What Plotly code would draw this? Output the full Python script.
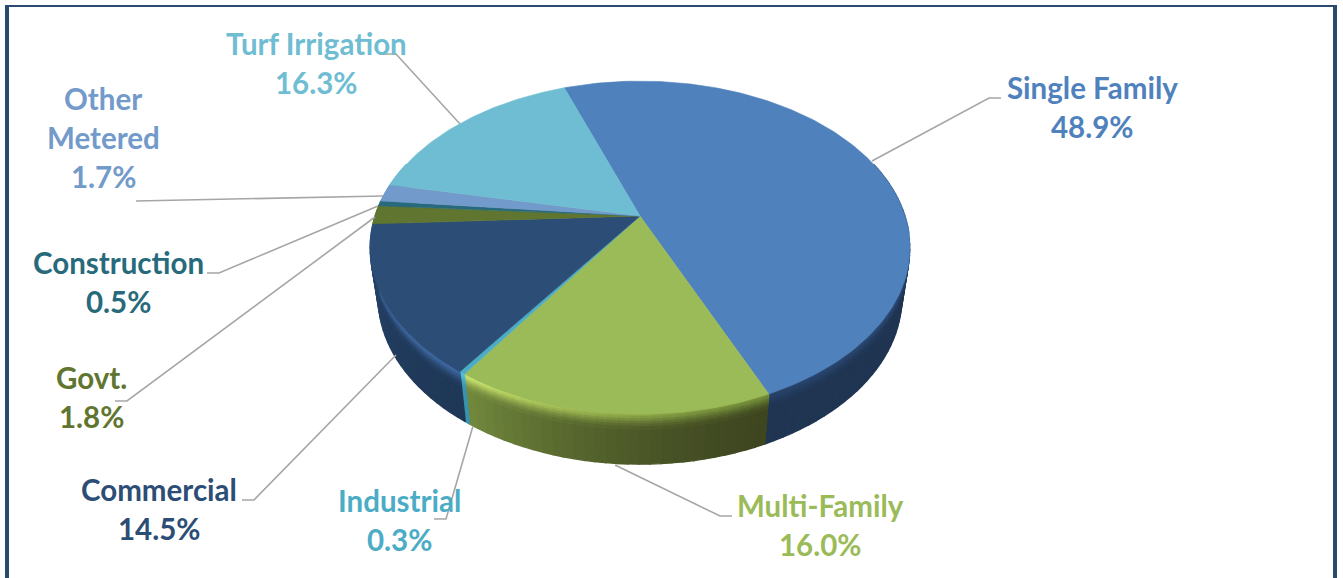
import numpy as np
import plotly.graph_objects as go

# ---- data ----
categories = ["Single Family", "Multi-Family", "Industrial", "Commercial",
              "Govt.", "Construction", "Other Metered", "Turf Irrigation"]
values = [48.9, 16.0, 0.3, 14.5, 1.8, 0.5, 1.7, 16.3]
tick_labels = [["Single Family", "48.9%"], ["Multi-Family", "16.0%"], ["Industrial", "0.3%"],
               ["Commercial", "14.5%"], ["Govt.", "1.8%"], ["Construction", "0.5%"],
               ["Other", "Metered", "1.7%"], ["Turf Irrigation", "16.3%"]]

# ---- styles ----
top_colors = ["#4f81bd", "#9bbb59", "#4bacc6", "#2c4d75", "#5f7530", "#276a7c", "#729aca", "#6fbdd2"]
label_colors = ["#4f81bd", "#9bbb59", "#4bacc6", "#2c4d75", "#5f7530", "#276a7c", "#729aca", "#6fbdd2"]
# wall colour at slice start angle, at slice end angle (clockwise)
wall_colors = [("#1f3552", "#1f3552"), ("#3e4620", "#72893d"), ("#3a93ad", "#3a93ad"),
               ("#1f3858", "#264469"), ("#4a5c26", "#4a5c26"), ("#1e5362", "#1e5362"),
               ("#3d6391", "#3d6391"), ("#4b8a9b", "#4b8a9b")]
rim_colors = [("#3d6494", "#27426a"), ("#75903a", "#cde76f"), ("#5cc3dd", "#5cc3dd"),
              ("#3f6aa3", "#3a5f95"), ("#5f7530", "#5f7530"), ("#276a7c", "#276a7c"),
              ("#729aca", "#729aca"), ("#6fbdd2", "#6fbdd2")]

# layout positions (pixels of the page)
label_pos = [(1092, 87), (820, 505), (399, 500), (159, 489), (91, 377), (118, 262), (103, 98), (316, 43)]
leaders = [[(872, 161), (989, 98), (1001, 98)],
           [(615, 465), (720, 516), (732, 516)],
           [(473, 426), (446, 519), (434, 519)],
           [(396, 355), (254, 500), (242, 500)],
           [(375, 217), (127, 401), (115, 401)],
           [(378, 206), (219, 273), (207, 273)],
           [(383, 196), (136, 201)],
           [(460, 124), (396, 54), (384, 54)]]
LINE_STEP = 39
FRAME = "#2a4a6f"

# ---- perspective pie geometry ----
CX, CY, A, B, K = 640.0, 216.0, 265.0, 160.5, 0.19
DEPTH, SHRINK = 50.0, 0.03
START = -19.7


def project(theta_deg, t=0.0, r=1.0):
    th = np.radians(theta_deg)
    u, v = r * np.sin(th), r * np.cos(th)
    w = 1 + K * v
    x = CX + (A * u / w) * (1 - SHRINK * t)
    y = CY - B * v / w + DEPTH * t
    return x, y


def hex2rgb(h):
    return np.array([int(h[i:i + 2], 16) for i in (1, 3, 5)], float)


def rgb2hex(r):
    return "#%02x%02x%02x" % tuple(int(round(c)) for c in r)


def mix(c1, c2, f):
    return rgb2hex(hex2rgb(c1) * (1 - f) + hex2rgb(c2) * f)


angles = START + np.concatenate([[0], np.cumsum(values)]) * 360.0 / sum(values)

fig = go.Figure()


def poly(xs, ys, color, lw=0.6):
    fig.add_trace(go.Scatter(x=list(xs), y=list(ys), mode="lines", fill="toself", fillcolor=color,
                             line=dict(color=color, width=lw), hoverinfo="skip", showlegend=False))


# side wall, front part only: base colour first, soft rim bands over it
band_edges = [0.0, 0.05, 0.10, 0.15, 0.20, 0.25, 0.30]
band_glow = [1.0, 0.85, 0.62, 0.40, 0.22, 0.08]
WALL_FROM, WALL_TO = 70.0, 290.0
for i in range(len(values)):
    a0, a1 = angles[i], angles[i + 1]
    lo, hi = max(a0, WALL_FROM), min(a1, WALL_TO)
    if hi <= lo:
        continue
    n = max(1, int(np.ceil((hi - lo) / 2.0)))
    edges = np.linspace(lo, hi, n + 1)
    for j in range(n):
        th0, th1 = edges[j], edges[j + 1]
        f = (((th0 + th1) / 2 - a0) / (a1 - a0)) ** 1.5
        wall = mix(*wall_colors[i], f)
        rim = mix(*rim_colors[i], f)
        x00, y00 = project(th0, band_edges[-1])
        x10, y10 = project(th1, band_edges[-1])
        x11, y11 = project(th1, 1.0)
        x01, y01 = project(th0, 1.0)
        poly([x00, x10, x11, x01, x00], [y00, y10, y11, y01, y00], wall, 1.3)
        for b, g in enumerate(band_glow):
            col = mix(wall, rim, g)
            t0, t1 = band_edges[b], band_edges[b + 1]
            x00, y00 = project(th0, t0)
            x10, y10 = project(th1, t0)
            x11, y11 = project(th1, t1)
            x01, y01 = project(th0, t1)
            poly([x00, x10, x11, x01, x00], [y00, y10, y11, y01, y00], col, 1.3)

# top surface
for i in range(len(values)):
    th = np.linspace(angles[i], angles[i + 1], max(2, int(angles[i + 1] - angles[i]) + 2))
    ex, ey = project(th)
    poly(np.r_[CX, ex, CX], np.r_[CY, ey, CY], top_colors[i])

# leader lines
for pts in leaders:
    fig.add_trace(go.Scatter(x=[p[0] for p in pts], y=[p[1] for p in pts], mode="lines",
                             line=dict(color="#a6a6a6", width=1.6), hoverinfo="skip", showlegend=False))

# labels
for lines, (lx, ly), col in zip(tick_labels, label_pos, label_colors):
    for k, s in enumerate(lines):
        fig.add_annotation(x=lx, y=ly + k * LINE_STEP, text="<b>%s</b>" % s, showarrow=False,
                           xanchor="center", yanchor="middle",
                           font=dict(family="Lato", size=29.5, color=col))

frame_rects = [(5, 5, 9, 578), (5, 5, 1337, 7), (1333, 5, 1337, 578)]
fig.update_layout(
    width=1343, height=578, margin=dict(l=0, r=0, t=0, b=0),
    paper_bgcolor="white", plot_bgcolor="white", showlegend=False,
    xaxis=dict(range=[0, 1343], visible=False, fixedrange=True),
    yaxis=dict(range=[578, 0], visible=False, fixedrange=True),
    shapes=[dict(type="rect", x0=a, y0=b, x1=c, y1=d, fillcolor=FRAME, line=dict(width=0), layer="above")
            for a, b, c, d in frame_rects],
)
fig.write_html("out.html", config=dict(displayModeBar=False),
               post_script="document.body.style.margin='0';document.body.style.overflow='hidden';")
